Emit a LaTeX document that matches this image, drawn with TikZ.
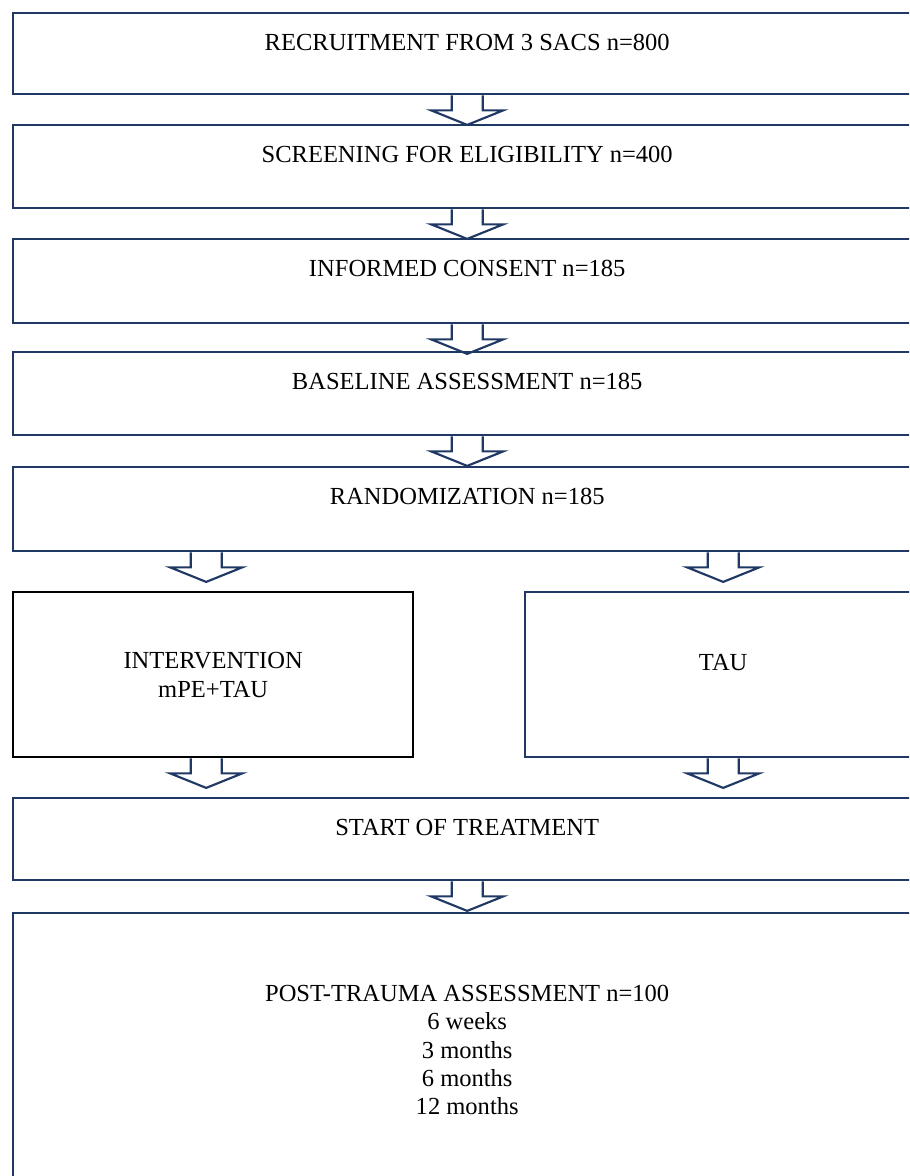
\documentclass[tikz,border=0pt]{standalone}
\usepackage{fontspec}
\setmainfont{Liberation Serif}
\usetikzlibrary{calc}
\definecolor{navy}{RGB}{31,56,100}

% hollow block arrow hanging below a point
\newcommand{\flowarrow}[1]{%
  \draw[arrowline] ($(#1)+(-15.5,0)$) -- ++(0,15) -- ++(-20.5,0) -- ++(36,14.5)
    -- ++(36,-14.5) -- ++(-20.5,0) -- ++(0,-15);}

\begin{document}
\begin{tikzpicture}[x=0.75pt, y=-0.75pt,
    box/.style={rectangle, draw=navy, line width=1.8pt, anchor=north west,
                inner sep=0pt, minimum width=681pt},
    lbl/.style={font=\fontsize{18.4}{21.2}\selectfont, align=center, inner sep=0pt},
    arrowline/.style={draw=navy, line width=1.6pt, line join=miter}]

    \useasboundingbox (0,0) rectangle (909,1176);
    \clip (0,0) rectangle (909,1176);

    % Boxes
    \node[box, minimum height=60.75pt] (recruit) at (12,12) {};
    \node[box, minimum height=62.25pt] (screen) at (12,124) {};
    \node[box, minimum height=63pt] (consent) at (12,238) {};
    \node[box, minimum height=62.25pt] (baseline) at (12,351) {};
    \node[box, minimum height=63pt] (random) at (12,466) {};
    \node[box, draw=black, minimum width=300pt, minimum height=123.75pt] (interv) at (12,591) {};
    \node[box, minimum width=297pt, minimum height=123.75pt] (tau) at (524,591) {};
    \node[box, minimum height=61.5pt] (start) at (12,797) {};
    \node[box, minimum height=300pt] (post) at (12,912) {};

    % Texts
    \node[lbl, anchor=base] (recruit-txt) at ($(recruit.north)+(0,38.5)$) {RECRUITMENT FROM 3 SACS n=800};
    \node[lbl, anchor=base] (screen-txt) at ($(screen.north)+(0,38.5)$) {SCREENING FOR ELIGIBILITY n=400};
    \node[lbl, anchor=base] (consent-txt) at ($(consent.north)+(0,38.5)$) {INFORMED CONSENT n=185};
    \node[lbl, anchor=base] (baseline-txt) at ($(baseline.north)+(0,38.5)$) {BASELINE ASSESSMENT n=185};
    \node[lbl, anchor=base] (random-txt) at ($(random.north)+(0,38.5)$) {RANDOMIZATION n=185};
    \node[lbl] (interv-txt) at ($(interv.north)+(0,84)$) {INTERVENTION\\mPE+TAU};
    \node[lbl, anchor=base] (tau-txt) at ($(tau.north)+(0,79)$) {TAU};
    \node[lbl, anchor=base] (start-txt) at ($(start.north)+(0,38.5)$) {START OF TREATMENT};
    \node[lbl] (post-txt) at ($(post.north)+(0,138)$) {POST-TRAUMA ASSESSMENT n=100\\6 weeks\\3 months\\6 months\\12 months};

    % Arrows
    \coordinate (split-l) at ($(random.south -| interv.north)+(-7,0)$);
    \coordinate (split-r) at (random.south -| tau.north);
    \coordinate (merge-l) at ($(interv.south)+(-7,0)$);
    \flowarrow{recruit.south}
    \flowarrow{screen.south}
    \flowarrow{consent.south}
    \flowarrow{baseline.south}
    \flowarrow{split-l}
    \flowarrow{split-r}
    \flowarrow{merge-l}
    \flowarrow{tau.south}
    \flowarrow{start.south}
\end{tikzpicture}
\end{document}
